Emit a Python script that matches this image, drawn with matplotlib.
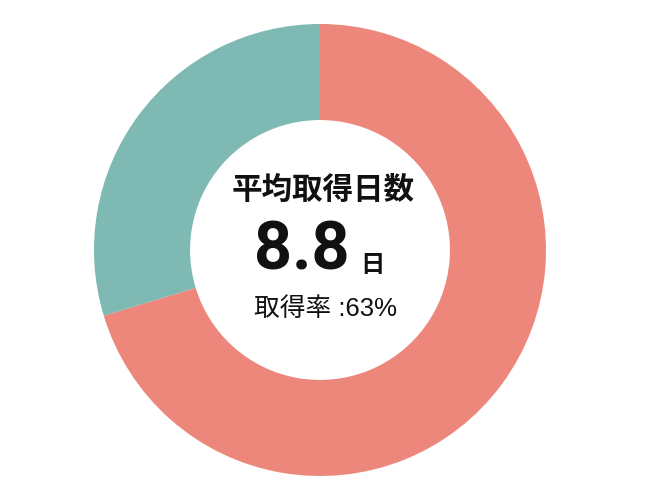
import matplotlib
matplotlib.use("Agg")
import matplotlib.pyplot as plt

# share of days taken vs not taken (read from the ring)
labels = ["取得", "未取得"]
values = [70.3, 29.7]
colors = ["#ED867B", "#7EB9B3"]

title = "平均取得日数"
avg_days = "8.8"
unit = "日"
rate_text = "取得率 :63%"

jp = ["Liberation Sans", "Noto Sans CJK JP", "DejaVu Sans"]

fig = plt.figure(figsize=(6.5, 5), dpi=100)
ax = fig.add_axes([0, 0, 1, 1])
r_px = 226
ax.pie(values, colors=colors, startangle=90, counterclock=False,
       radius=1, wedgeprops=dict(width=0.425, edgecolor="none"))
ax.set_aspect("auto")
ax.set_xlim(-320 / r_px, 330 / r_px)
ax.set_ylim(-250 / r_px, 250 / r_px)
ax.axis("off")

def px(x, y):
    return (x - 320) / r_px, (250 - y) / r_px

ax.text(*px(323, 191), title, family=jp, fontsize=22, fontweight="bold",
        ha="center", va="center", color="#111111")
ax.text(*px(350, 251), avg_days, family="Roboto", fontsize=48, fontweight="bold",
        ha="right", va="center", color="#111111")
ax.text(*px(372, 266), unit, family=jp, fontsize=17.5, fontweight="bold",
        ha="center", va="center", color="#111111")
ax.text(*px(326, 309), rate_text, family=jp, fontsize=18.5,
        ha="center", va="center", color="#111111")

fig.savefig("out.png", dpi=100)
